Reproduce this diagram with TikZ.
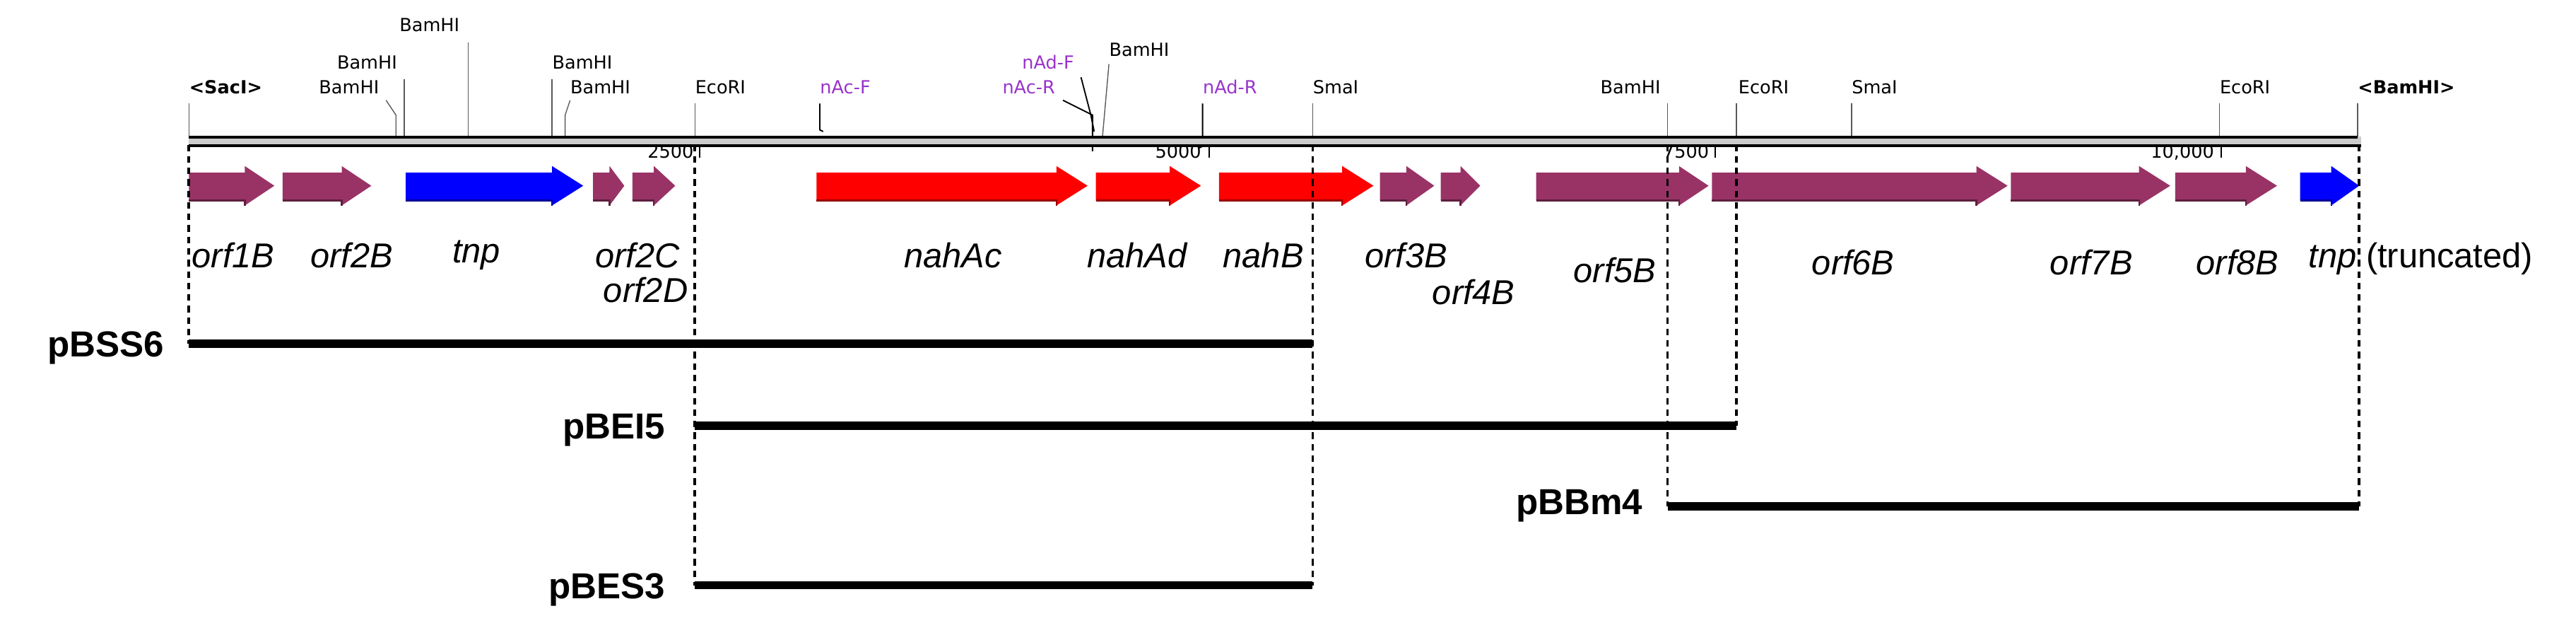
\documentclass[tikz,border=0pt]{standalone}
\usepackage{fontspec}
\setmainfont{Liberation Sans}
\newfontfamily\sitefont{DejaVu Sans}
\definecolor{maroon}{HTML}{993366}
\definecolor{prim}{HTML}{9933CC}
\begin{document}
\begin{tikzpicture}[x=1pt,y=-1pt,
  site/.style={font=\sitefont\fontsize{11}{11}\selectfont,inner sep=0pt,anchor=base west},
  prim/.style={site,text=prim},
  sline/.style={gray!70!black,line width=0.6pt},
  pline/.style={prim,line width=0.8pt},
  gl/.style={font=\fontsize{21}{21}\selectfont\itshape,inner sep=0pt,anchor=base},
  pl/.style={font=\fontsize{22}{22}\selectfont\bfseries,inner sep=0pt,anchor=base east},
  bar/.style={line width=5pt},
  dsh/.style={line width=1.6pt,dash pattern=on 4pt off 3pt}]
\useasboundingbox (0,0) rectangle (1568,382);
\newcommand{\garrow}[4]{\fill[#4] (#1,105)--(#2,105)--(#2,101)--(#3,113)--(#2,125)--(#2,122)--(#1,122)--cycle;
  \draw[#4!60!black,line width=1pt] (#1,122)--(#2,122)--(#2,125);}
% site lines
\draw[sline] (115,63)--(115,84);
\draw[sline] (235,61)--(241,70)--(241,84);
\draw[sline] (246,48)--(246,84);
\draw[sline] (285,26)--(285,84);
\draw[sline] (336,48)--(336,84);
\draw[sline] (347,61)--(344,70)--(344,84);
\draw[sline] (423,63)--(423,84);
\draw[sline] (675,39)--(671,84);
\draw[sline] (799,63)--(799,84);
\draw[sline] (1015,63)--(1015,84);
\draw[sline] (1057,63)--(1057,84);
\draw[sline] (1127,63)--(1127,84);
\draw[sline] (1351,63)--(1351,84);
\draw[sline] (1435,63)--(1435,84);
\draw[pline] (499,63)--(499,79)--(501,80);
\draw[pline] (658,47)--(664,70)--(666,80);
\draw[pline] (647,61)--(665,70)--(665,92);
\draw[pline] (732,63)--(732,89)--(730,90);
% backbone
\fill[gray!40] (115,83) rectangle (1437,89);
\draw[line width=1.6pt] (115,83.5)--(1435,83.5);
\draw[line width=1.6pt] (115,88.5)--(1437,88.5);
% ticks
\draw[line width=0.8pt] (426,88)--(426,96) (736,88)--(736,96) (1044,88)--(1044,96) (1352,88)--(1352,96);
\node[site] at (394,96) {2500};
\node[site] at (703,96) {5000};
\node[site] at (1012,96) {7500};
\node[site] at (1309,96) {10,000};
% site labels
\node[site,font=\sitefont\bfseries\fontsize{11}{11}\selectfont] (saci) at (115,57) {<SacI>};
\node[site] (b1) at (194,57) {BamHI};
\node[site] (b2) at (205,42) {BamHI};
\node[site] (b3) at (243,19) {BamHI};
\node[site] (b4) at (336,42) {BamHI};
\node[site] (b5) at (347,57) {BamHI};
\node[site] (e1) at (423,57) {EcoRI};
\node[prim] (p1) at (499,57) {nAc-F};
\node[prim] (p2) at (622,42) {nAd-F};
\node[prim] (p3) at (610,57) {nAc-R};
\node[site] (b6) at (675,34) {BamHI};
\node[prim] (p4) at (732,57) {nAd-R};
\node[site] (s1) at (799,57) {SmaI};
\node[site] (b7) at (974,57) {BamHI};
\node[site] (e2) at (1058,57) {EcoRI};
\node[site] (s2) at (1127,57) {SmaI};
\node[site] (e3) at (1351,57) {EcoRI};
\node[site,font=\sitefont\bfseries\fontsize{11}{11}\selectfont] (bend) at (1435,57) {<BamHI>};
% genes
\garrow{115}{149}{167}{maroon}
\garrow{172}{208}{226}{maroon}
\garrow{247}{336}{355}{blue}
\garrow{361}{371}{380}{maroon}
\garrow{385}{398}{411}{maroon}
\garrow{497}{643}{662}{red}
\garrow{667}{712}{731}{red}
\garrow{742}{817}{836}{red}
\garrow{840}{856}{873}{maroon}
\garrow{877}{889}{901}{maroon}
\garrow{935}{1022}{1040}{maroon}
\garrow{1042}{1203}{1222}{maroon}
\garrow{1224}{1302}{1321}{maroon}
\garrow{1324}{1367}{1386}{maroon}
\garrow{1400}{1419}{1436}{blue}
% gene labels
\node[gl] (g1) at (142,163) {orf1B};
\node[gl] (g2) at (214,163) {orf2B};
\node[gl] (g3) at (290,160) {tnp};
\node[gl] (g4) at (388,163) {orf2C};
\node[gl] (g5) at (393,184) {orf2D};
\node[gl] (g6) at (580,163) {nahAc};
\node[gl] (g7) at (692,163) {nahAd};
\node[gl] (g8) at (769,163) {nahB};
\node[gl] (g9) at (856,163) {orf3B};
\node[gl] (g10) at (897,185) {orf4B};
\node[gl] (g11) at (983,172) {orf5B};
\node[gl] (g12) at (1128,167) {orf6B};
\node[gl] (g13) at (1273,167) {orf7B};
\node[gl] (g14) at (1362,167) {orf8B};
\node[gl,anchor=base west] (g15) at (1405,163) {tnp\normalfont\fontsize{21}{21}\selectfont\ (truncated)};
% fragments
\coordinate (a0) at (115,88); \coordinate (a1) at (115,209);
\coordinate (c0) at (423,88); \coordinate (c1) at (423,356);
\coordinate (d0) at (799,88); \coordinate (d1) at (799,356);
\coordinate (f0) at (1057,88); \coordinate (f1) at (1057,259);
\coordinate (h0) at (1015,88); \coordinate (h1) at (1015,308);
\coordinate (k0) at (1436,88); \coordinate (k1) at (1436,308);
\draw[dsh] (a0)--(a1) (c0)--(c1) (d0)--(d1) (f0)--(f1) (h0)--(h1) (k0)--(k1);
\coordinate (bs1) at (423,259); \coordinate (bs2) at (423,356); \coordinate (bd2) at (799,209);
\draw[bar] (a1)--(bd2);
\draw[bar] (bs1)--(f1);
\draw[bar] (h1)--(k1);
\draw[bar] (bs2)--(d1);
\node[pl] (n1) at (100,217) {pBSS6};
\node[pl] (n2) at (405,267) {pBEI5};
\node[pl] (n3) at (1000,313) {pBBm4};
\node[pl] (n4) at (405,364) {pBES3};
\end{tikzpicture}
\end{document}
